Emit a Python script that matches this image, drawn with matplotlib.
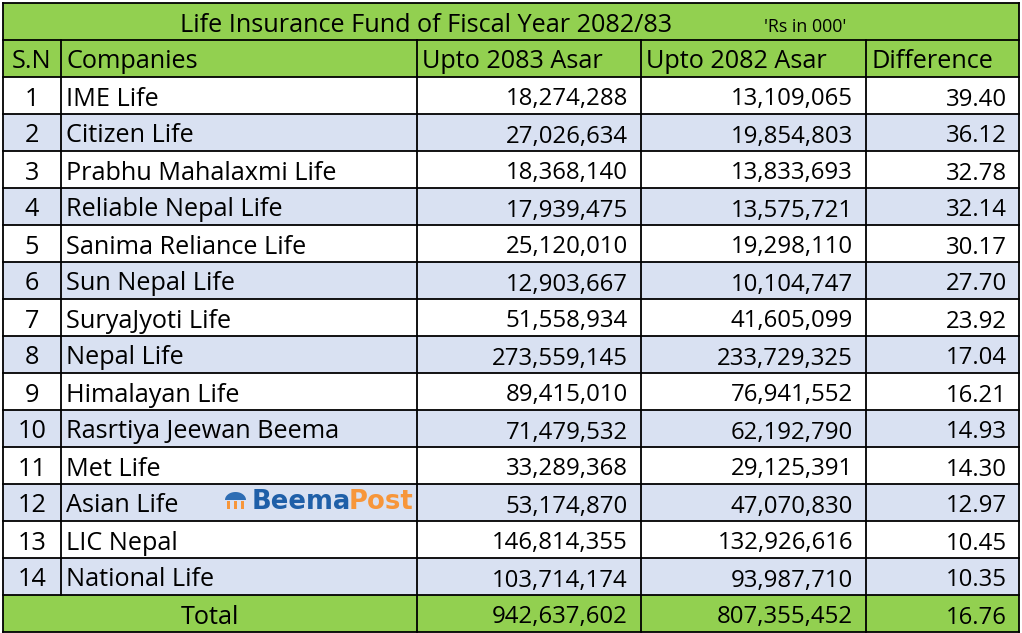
import matplotlib.pyplot as plt
import numpy as np
from matplotlib.patches import Rectangle, Polygon

sn = [str(i) for i in range(1, 15)]
companies = ['IME Life', 'Citizen Life', 'Prabhu Mahalaxmi Life', 'Reliable Nepal Life',
             'Sanima Reliance Life', 'Sun Nepal Life', 'SuryaJyoti Life', 'Nepal Life',
             'Himalayan Life', 'Rasrtiya Jeewan Beema', 'Met Life', 'Asian Life',
             'LIC Nepal', 'National Life']
upto_2083 = [18274288, 27026634, 18368140, 17939475, 25120010, 12903667, 51558934,
             273559145, 89415010, 71479532, 33289368, 53174870, 146814355, 103714174]
upto_2082 = [13109065, 19854803, 13833693, 13575721, 19298110, 10104747, 41605099,
             233729325, 76941552, 62192790, 29125391, 47070830, 132926616, 93987710]
difference = [39.40, 36.12, 32.78, 32.14, 30.17, 27.70, 23.92, 17.04, 16.21, 14.93,
              14.30, 12.97, 10.45, 10.35]
total_2083 = 942637602
total_2082 = 807355452
total_diff = 16.76

headers = ['S.N', 'Companies', 'Upto 2083 Asar', 'Upto 2082 Asar', 'Difference']
title = 'Life Insurance Fund of Fiscal Year 2082/83'
unit = "'Rs in 000'"

green = '#92D050'
blue = '#D9E1F2'
font = 'Open Sans'
fs = 18.2     # words
fs_num = 17.3  # numbers

W, H = 1022, 633
fig = plt.figure(figsize=(W / 100, H / 100), dpi=100)
ax = fig.add_axes([0, 0, 1, 1])
ax.set_xlim(0, W)
ax.set_ylim(H, 0)
ax.axis('off')

xs = [3, 61, 417, 641, 866, 1019]
top = 3
rh = 37.0
n_rows = len(companies) + 3
ys = [top + i * rh for i in range(n_rows + 1)]


def cell_bg(r, color):
    ax.add_patch(Rectangle((xs[0], ys[r]), xs[-1] - xs[0], rh, facecolor=color, edgecolor='none'))


def base(r):
    return ys[r] + 28.5


def put(x, r, s, ha, size=fs, **kw):
    ax.text(x, base(r), s, fontsize=size, family=font, ha=ha, va='baseline', **kw)


# backgrounds
cell_bg(0, green)
cell_bg(1, green)
for i in range(len(companies)):
    cell_bg(i + 2, blue if i % 2 == 1 else 'white')
cell_bg(n_rows - 1, green)

# grid lines
lw = 1.3
for y in ys:
    ax.plot([xs[0], xs[-1]], [y, y], color='black', lw=lw)
for k, x in enumerate(xs):
    if k in (0, len(xs) - 1):
        ax.plot([x, x], [ys[0], ys[-1]], color='black', lw=lw)
    elif k == 1:
        ax.plot([x, x], [ys[1], ys[-2]], color='black', lw=lw)
    else:
        ax.plot([x, x], [ys[1], ys[-1]], color='black', lw=lw)

# title row
put(426, 0, title, 'center')
put(805, 0, unit, 'center', size=12.8)

# header row
put((xs[0] + xs[1]) / 2, 1, headers[0], 'center')
for k in range(1, 5):
    put(xs[k] + 5, 1, headers[k], 'left')

# body
for i in range(len(companies)):
    r = i + 2
    put((xs[0] + xs[1]) / 2, r, sn[i], 'center')
    put(xs[1] + 5, r, companies[i], 'left')
    put(xs[3] - 13, r, f'{upto_2083[i]:,}', 'right', size=fs_num)
    put(xs[4] - 13, r, f'{upto_2082[i]:,}', 'right', size=fs_num)
    put(xs[5] - 12, r, f'{difference[i]:.2f}', 'right', size=fs_num)

# total row
r = n_rows - 1
put((xs[0] + xs[2]) / 2, r, 'Total', 'center')
put(xs[3] - 13, r, f'{total_2083:,}', 'right', size=fs_num)
put(xs[4] - 13, r, f'{total_2082:,}', 'right', size=fs_num)
put(xs[5] - 12, r, f'{total_diff:.2f}', 'right', size=fs_num)

# BeemaPost logo
t = np.linspace(0, np.pi, 30)
dome = np.column_stack([235.5 + 10.5 * np.cos(t), 500 - 8 * np.sin(t)])
ax.add_patch(Polygon(dome, closed=True, facecolor='#2E6DB4', edgecolor='none'))
for bx in (226.5, 233.8, 241):
    ax.add_patch(Rectangle((bx, 501), 3.2, 7.5, facecolor='#F7963A', edgecolor='none'))
ax.text(252, 509, 'Beema', fontsize=18.6, family='DejaVu Sans', weight='bold',
        color='#1F5FA8', ha='left', va='baseline')
ax.text(349, 509, 'Post', fontsize=18.6, family='DejaVu Sans', weight='bold',
        color='#F7963A', ha='left', va='baseline')

fig.savefig('out.png', dpi=100)
